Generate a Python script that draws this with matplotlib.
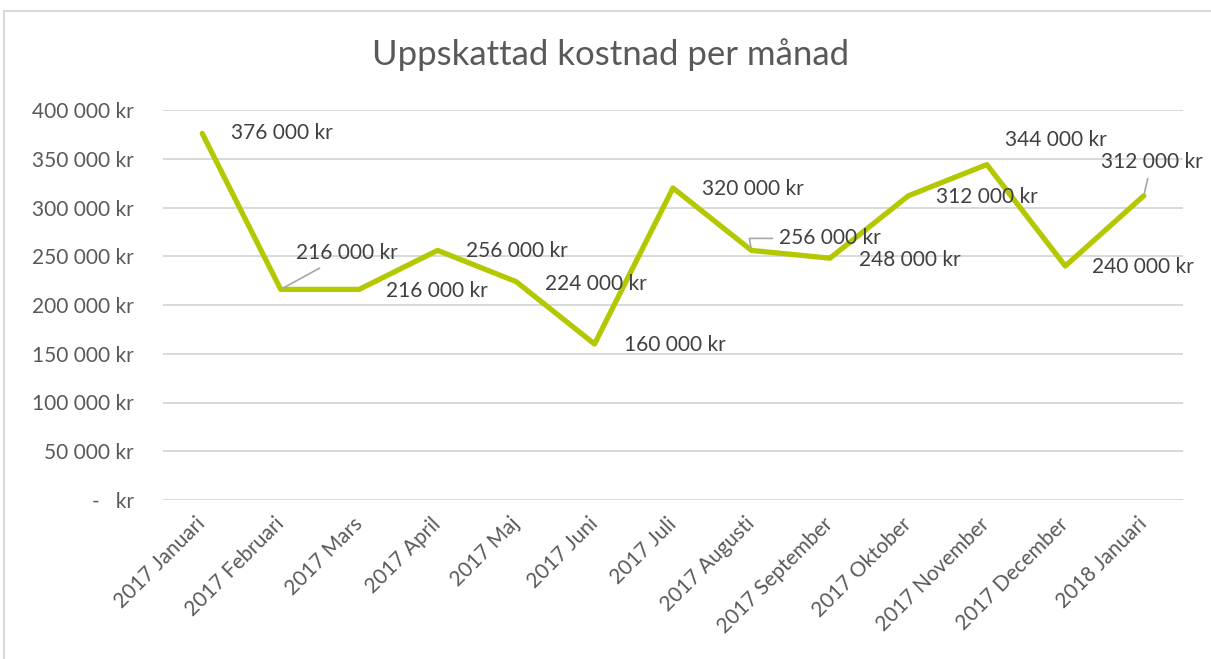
import matplotlib
matplotlib.use("Agg")
import matplotlib.pyplot as plt
from matplotlib.patches import Rectangle

plt.rcParams['font.family'] = ['Lato', 'DejaVu Sans']

months = ["2017 Januari", "2017 Februari", "2017 Mars", "2017 April", "2017 Maj",
          "2017 Juni", "2017 Juli", "2017 Augusti", "2017 September", "2017 Oktober",
          "2017 November", "2017 December", "2018 Januari"]
costs = [376000, 216000, 216000, 256000, 224000, 160000, 320000,
         256000, 248000, 312000, 344000, 240000, 312000]
yticks = [0, 50000, 100000, 150000, 200000, 250000, 300000, 350000, 400000]
title = "Uppskattad kostnad per månad"

# label offsets in pixels (text left edge, vertical centre) relative to point
offsets = [(29, 0), (15, 36), (27, -2), (28, -1), (29, -2), (29, -1), (29, -1),
           (28, 12), (29, -2), (28, -1), (18, 25), (27, -1), (-43, 34)]
leaders = {1: 'arc3', 7: 'angle,angleA=0,angleB=100,rad=0', 12: 'arc3'}

W, H = 1211, 659
fig = plt.figure(figsize=(W / 100, H / 100), dpi=100)
ax = fig.add_axes([163 / W, 1 - 500 / H, (1183 - 163) / W, 390 / H])

line_color = '#B3C800'
text_color = '#595959'
label_color = '#404040'
fs = 15
ax.plot(range(len(costs)), costs, color=line_color, lw=3.8, solid_joinstyle='round',
        solid_capstyle='round', zorder=3)

ax.set_xlim(-0.5, len(costs) - 0.5)
ax.set_ylim(0, 400000)
ax.set_yticks(yticks)

def fmt(v):
    if v == 0:
        return "-   kr"
    return f"{v:,.0f}".replace(",", " ") + " kr"

ax.set_yticklabels([fmt(v) for v in yticks], fontsize=fs, color=text_color)
ax.set_xticks(range(len(months)))
ax.set_xticklabels(months, rotation=45, ha='right', rotation_mode='anchor',
                   fontsize=fs, color=text_color)
ax.tick_params(axis='both', length=0)
ax.tick_params(axis='y', pad=21)
ax.tick_params(axis='x', pad=15)
for lab in ax.get_xticklabels():
    lab.set_va('center')

ax.grid(axis='y', color='#D9D9D9', lw=1.4)
ax.set_axisbelow(True)
for s in ax.spines.values():
    s.set_visible(False)

for i, (v, (dx, dy)) in enumerate(zip(costs, offsets)):
    lbl = fmt(v)
    kw = dict(xy=(i, v), xytext=(dx * 0.72, dy * 0.72), textcoords='offset points',
              ha='left', va='center', fontsize=fs, color=label_color, zorder=4)
    if i in leaders:
        kw['arrowprops'] = dict(arrowstyle='-', color='#A6A6A6', lw=1.2,
                                shrinkA=3, shrinkB=2, connectionstyle=leaders[i])
    ax.annotate(lbl, **kw)

fig.text(611 / W, 1 - 55 / H, title, ha='center', va='center', fontsize=25, color=text_color)

fig.patches.append(Rectangle((4 / W, -0.01), 1.02, (H - 11) / H + 0.01, transform=fig.transFigure,
                             fill=False, edgecolor='#D9D9D9', lw=1.5))

fig.savefig("out.png", dpi=100, facecolor='white')
